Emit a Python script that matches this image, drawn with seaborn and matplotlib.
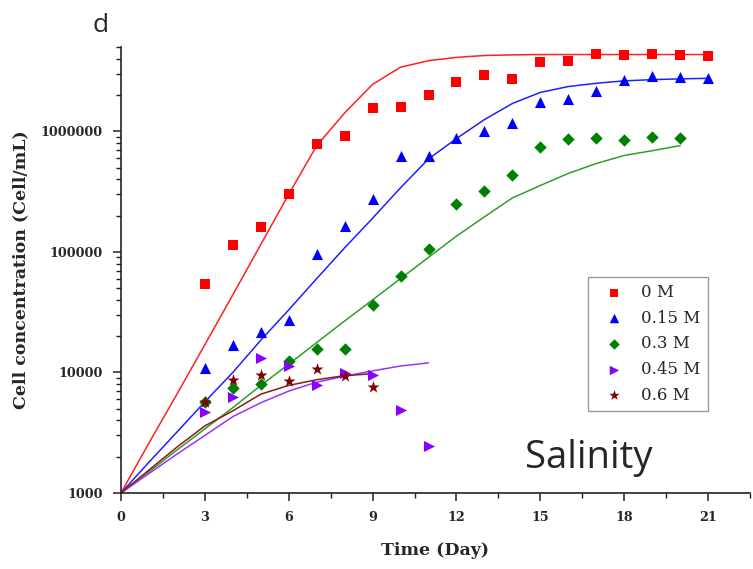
import numpy as np
import pandas as pd
import matplotlib
matplotlib.use("Agg")
import matplotlib.pyplot as plt
from matplotlib.ticker import FixedLocator, FixedFormatter, LogLocator, NullFormatter, MultipleLocator
import seaborn as sns

# ---- observed points (cells/mL) ----
days_0 = list(range(3, 22))
obs_0 = [54000, 113000, 161000, 303000, 780000, 920000, 1560000, 1590000, 2000000, 2550000,
         2950000, 2710000, 3740000, 3830000, 4380000, 4320000, 4360000, 4320000, 4240000]
days_015 = list(range(3, 22))
obs_015 = [10900, 16800, 21700, 27000, 96000, 164000, 273000, 619000, 627000, 875000,
           1000000, 1180000, 1750000, 1840000, 2140000, 2680000, 2860000, 2830000, 2770000]
days_03 = list(range(3, 21))
obs_03 = [5660, 7400, 8050, 12400, 15500, 15500, 36400, 63500, 106000, 248000,
          318000, 438000, 745000, 863000, 886000, 847000, 903000, 875000]
days_045 = list(range(3, 12))
obs_045 = [4700, 6300, 13100, 11400, 7800, 9900, 9500, 4900, 2430]
days_06 = list(range(3, 10))
obs_06 = [5700, 8600, 9600, 8500, 10700, 9300, 7600]

# ---- fitted curves ----
fit_days_0 = list(range(0, 22))
fit_0 = [1000, 2600, 6600, 17000, 44000, 115000, 300000, 760000, 1420000, 2450000, 3400000,
         3850000, 4100000, 4250000, 4300000, 4330000, 4330000, 4330000, 4330000, 4330000,
         4330000, 4330000]
fit_days_015 = list(range(0, 22))
fit_015 = [1000, 1800, 3200, 5700, 10000, 18500, 33000, 60000, 108000, 190000, 340000,
           590000, 870000, 1250000, 1700000, 2100000, 2350000, 2500000, 2620000, 2680000,
           2720000, 2750000]
fit_days_03 = list(range(0, 21))
fit_03 = [1000, 1500, 2270, 3400, 5100, 7800, 11700, 17700, 26700, 40000, 60000, 90000,
          135000, 195000, 280000, 355000, 447000, 540000, 630000, 690000, 760000]
fit_days_045 = list(range(0, 12))
fit_045 = [1000, 1450, 2100, 3000, 4300, 5600, 7000, 8300, 9300, 10300, 11300, 12000]
fit_days_06 = list(range(0, 10))
fit_06 = [1000, 1550, 2400, 3600, 4800, 6600, 7800, 8700, 9400, 9750]

labels = ["0 M", "0.15 M", "0.3 M", "0.45 M", "0.6 M"]
marker_colors = ["#FF0000", "#0000FF", "#008000", "#8800FF", "#800000"]
line_colors = ["#FF2020", "#2020FF", "#2E9E2E", "#9933FF", "#8B1A1A"]
markers = ["s", "^", "D", ">", "*"]
marker_sizes = [54, 64, 40, 64, 85]

obs = [(days_0, obs_0), (days_015, obs_015), (days_03, obs_03), (days_045, obs_045), (days_06, obs_06)]
fits = [(fit_days_0, fit_0), (fit_days_015, fit_015), (fit_days_03, fit_03),
        (fit_days_045, fit_045), (fit_days_06, fit_06)]

sns.set_style("ticks")
plt.rcParams["font.family"] = ["DejaVu Serif"]

fig = plt.figure(figsize=(7.53, 5.69), dpi=100)
ax = fig.add_axes([0.1607, 0.1336, 0.8353, 0.7838])

for (fd, fv), c in zip(fits, line_colors):
    sns.lineplot(x=fd, y=fv, color=c, linewidth=1.1, ax=ax, legend=False, zorder=2)

for (d, v), lab, c, m, s in zip(obs, labels, marker_colors, markers, marker_sizes):
    sns.scatterplot(x=d, y=v, color=c, marker=m, s=s, linewidth=0, ax=ax, label=lab, zorder=3)

ax.set_yscale("log")
ax.set_ylim(1000, 5e6)
ax.set_xlim(0, 22.5)

ax.yaxis.set_major_locator(FixedLocator([1e3, 1e4, 1e5, 1e6]))
ax.yaxis.set_major_formatter(FixedFormatter(["1000", "10000", "100000", "1000000"]))
ax.yaxis.set_minor_locator(LogLocator(base=10, subs=np.arange(2, 10)))
ax.yaxis.set_minor_formatter(NullFormatter())
ax.xaxis.set_major_locator(MultipleLocator(3))
ax.xaxis.set_minor_locator(MultipleLocator(1.5))

for side in ["top", "right"]:
    ax.spines[side].set_visible(False)
for side in ["left", "bottom"]:
    ax.spines[side].set_linewidth(1.2)
    ax.spines[side].set_color("#222222")

ax.tick_params(which="major", direction="out", length=6, width=1.1, color="#222222",
               labelsize=9.2, pad=7)
ax.tick_params(which="minor", direction="out", length=3.5, width=1.0, color="#222222")
for lbl in ax.get_xticklabels() + ax.get_yticklabels():
    lbl.set_fontweight("bold")

ax.set_xlabel("Time (Day)", fontsize=12.5, fontweight="bold", labelpad=13)
ax.set_ylabel("Cell concentration (Cell/mL)", fontsize=12.5, fontweight="bold", labelpad=8)

handles, labs = ax.get_legend_handles_labels()
leg = ax.legend(handles, labs, loc="upper left", bbox_to_anchor=(0.742, 0.484),
                borderaxespad=0, fontsize=12, frameon=True, fancybox=False,
                edgecolor="#999999", framealpha=1, handlelength=2.3, handletextpad=0.5,
                labelspacing=0.52, borderpad=0.42, markerscale=0.85)
leg.get_frame().set_linewidth(1.0)

fig.text(92 / 753, 1 - 32 / 569, "d", fontfamily="Open Sans", fontsize=19, va="baseline")
fig.text(525 / 753, 1 - 468 / 569, "Salinity", fontfamily="Open Sans", fontsize=27.5, va="baseline")

fig.savefig("out.png", dpi=100)
plt.close(fig)
